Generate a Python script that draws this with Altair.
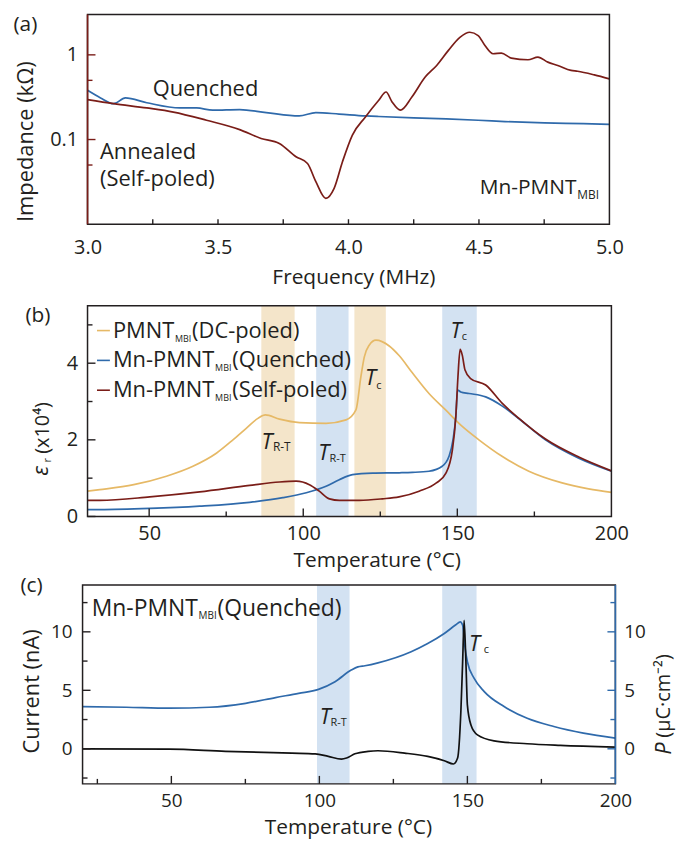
import altair as alt
import pandas as pd

FONT = "Open Sans"
INK = "#231f20"
RED = "#7a1d18"
BLUE = "#2f6aab"
GOLD = "#e6b966"
BAND_TAN = "#f4e5ca"
BAND_BLUE = "#d3e2f2"

# ---------------- (a) impedance vs frequency ----------------
a_q_freq = [3.00, 3.05, 3.10, 3.145, 3.227, 3.354, 3.418, 3.48, 3.583, 3.685, 3.811, 3.875,
            3.964, 4.065, 4.116, 4.25, 4.375, 4.497, 4.60, 4.751, 4.90, 5.00]
a_q_imp = [0.381, 0.31, 0.265, 0.31, 0.272, 0.236, 0.236, 0.222, 0.226, 0.208, 0.19, 0.208,
           0.20, 0.19, 0.187, 0.18, 0.175, 0.169, 0.163, 0.157, 0.154, 0.151]
a_s_freq = [3.00, 3.10, 3.227, 3.329, 3.456, 3.583, 3.665, 3.735, 3.799, 3.843, 3.875, 3.913,
            3.945, 3.977, 4.015, 4.065, 4.116, 4.144, 4.167, 4.199, 4.243, 4.294, 4.338, 4.383,
            4.427, 4.465, 4.497, 4.523, 4.554, 4.586, 4.624, 4.688, 4.726, 4.764, 4.802, 4.853,
            4.878, 4.942, 5.00]
a_s_imp = [0.296, 0.265, 0.236, 0.211, 0.169, 0.131, 0.103, 0.0898, 0.0626, 0.0522, 0.0318, 0.0202,
           0.0265, 0.0547, 0.113, 0.185, 0.291, 0.364, 0.278, 0.222, 0.318, 0.547, 0.75, 1.13,
           1.61, 1.85, 1.69, 1.29, 1.03, 1.05, 0.915, 0.875, 0.94, 0.82, 0.75, 0.655,
           0.64, 0.58, 0.52]
a_x_labels = [3.0, 3.5, 4.0, 4.5, 5.0]
a_x_minor = [3.25, 3.5, 3.75, 4.0, 4.25, 4.5, 4.75]
a_y_labels = [0.1, 1]
a_y_minor = [0.05, 0.5]

# ---------------- (b) permittivity vs temperature ----------------
b_dc_T = [30, 34, 45, 55.6, 64.2, 71.8, 77.2, 81.5, 85.3, 87.7, 92.3, 98.8, 107.4, 113.9, 117.1,
          118.7, 119.8, 121.4, 123.6, 127.9, 131.1, 135.4, 140.8, 146.2, 151.6, 157, 164.5,
          173.2, 184, 192.6, 200]
b_dc_eps = [0.66, 0.70, 0.83, 1.05, 1.31, 1.65, 2.0, 2.30, 2.56, 2.65, 2.54, 2.45, 2.43, 2.52, 2.78,
            3.64, 4.16, 4.47, 4.60, 4.45, 4.20, 3.75, 3.21, 2.78, 2.35, 2.0, 1.57,
            1.18, 0.875, 0.72, 0.63]
b_q_T = [30, 34, 50.2, 66.4, 82.6, 93.4, 101, 107.4, 111.7, 116, 122.5, 131.1, 135.4, 140.8, 145.1,
         147.3, 148.6, 149.5, 150.1, 151.1, 153.8, 159.2, 164.6, 170, 178.6, 189.4, 200]
b_q_eps = [0.18, 0.18, 0.21, 0.27, 0.37, 0.49, 0.62, 0.79, 0.96, 1.09, 1.13, 1.14, 1.15, 1.18, 1.31,
           1.57, 2.0, 2.6, 3.3, 3.25, 3.21, 3.12, 2.88, 2.55, 2.0, 1.52, 1.18]
b_s_T = [30, 34, 50.2, 66.4, 82.6, 92.3, 97.7, 102, 105.2, 108.5, 111.7, 118.2, 125.7, 131.1, 137.6,
         143.2, 146.3, 148.4, 149.5, 150.2, 150.9, 151.6, 152.5, 154.3, 159.2, 164.6, 170, 178.6,
         189.4, 200]
b_s_eps = [0.42, 0.42, 0.51, 0.64, 0.81, 0.90, 0.92, 0.83, 0.66, 0.46, 0.42, 0.42, 0.46, 0.51, 0.66,
           0.875, 1.13, 1.74, 2.6, 3.64, 4.36, 4.21, 3.82, 3.6, 3.43, 2.95, 2.56, 2.02,
           1.55, 1.19]
b_band_start = [86.4, 104.2, 116.6, 145.1]
b_band_end = [97.2, 114.7, 126.8, 156.3]
b_band_kind = ["tan", "blue", "tan", "blue"]
b_x_labels = [50, 100, 150, 200]
b_x_minor = [75, 125, 175]
b_y_labels = [0, 2, 4]
b_y_minor = [1, 3, 5]

# ---------------- (c) current / polarization ----------------
c_p_T = [20, 34.8, 49.3, 62.8, 75.1, 85.2, 93, 99.7, 105.3, 110.9, 113, 115.4, 119.8, 131, 136.6,
         142.2, 146.1, 147.6, 148.4, 149.1, 150, 152.3, 155.7, 162.4, 170.2, 179.2, 189.2, 200]
c_p_val = [3.61, 3.55, 3.47, 3.55, 3.89, 4.38, 4.74, 5.08, 5.74, 6.75, 7.0, 7.1, 7.35, 8.3, 9.0,
           9.86, 10.6, 10.85, 10.56, 8.86, 7.44, 6.02, 4.89, 3.61, 2.61, 1.91, 1.34, 0.91]
c_i_T = [20, 49.3, 68.3, 90.7, 98.6, 103, 107.5, 109.2, 112, 116.5, 119.8, 128.8, 136.6, 142.2,
         145.3, 146.7, 147.8, 148.4, 148.9, 149.5, 150, 151.2, 153.4, 159, 170.2, 181.4, 200]
c_i_val = [0, -0.03, -0.22, -0.37, -0.43, -0.65, -0.88, -0.79, -0.43, -0.22, -0.17, -0.37, -0.65,
           -1.02, -1.30, -0.79, 3.19, 7.44, 10.99, 7.44, 3.75, 2.04, 1.19, 0.68, 0.43, 0.29, 0.14]
c_band_start = [99.2, 141.5]
c_band_end = [110.2, 153.1]
c_x_labels = [50, 100, 150, 200]
c_x_minor = [25, 75, 125, 175]
c_y_labels = [0, 5, 10]
c_y_minor = [-2.5, 2.5, 7.5, 12.5]

# ---------------- layout constants ----------------
WA, HA = 525, 211
WB, HB = 527, 212
WC, HC = 531, 187
CX0, CY0 = -5, -13   # panel (c) frame starts left/up of its group origin

ONE = pd.DataFrame({"k": [0]})

# approximate Open Sans advance widths (em) for placing subscripts after text
OS_W = {"M": .903, "n": .614, "-": .322, "P": .603, "N": .756, "T": .551, "(": .295, ")": .295,
        "D": .735, "C": .633, "p": .613, "o": .604, "l": .253, "e": .561, "d": .613, "Q": .778,
        "u": .614, "c": .476, "h": .614, "S": .535, "f": .339, "B": .633, "I": .276, "R": .635}


def tw(s, size):
    return sum(OS_W.get(ch, 0.56) for ch in s) * size


def txt(text, x, y, size=22, italic=False, align="left", baseline="middle", color=INK, angle=None):
    kw = dict(text=text, font=FONT, fontSize=size, align=align, baseline=baseline, color=color)
    if italic:
        kw["fontStyle"] = "italic"
    if angle is not None:
        kw["angle"] = angle
    return alt.Chart(ONE).mark_text(**kw).encode(x=alt.value(x), y=alt.value(y))


def subscripted(main, sub, tail, x, y, size, subsize, subdy):
    """main text + subscript + tail, left aligned at x."""
    layers = [txt(main, x, y, size=size)]
    xs = x + tw(main, size) + 0.5
    layers.append(txt(sub, xs, y + subdy, size=subsize))
    if tail:
        layers.append(txt(tail, xs + tw(sub, subsize) + 1.0, y, size=size))
    return layers


def frame(x0, y0, x1, y1):
    return alt.Chart(ONE).mark_rect(fillOpacity=0, stroke=INK, strokeWidth=1.5).encode(
        x=alt.value(x0), x2=alt.value(x1), y=alt.value(y0), y2=alt.value(y1))


def side(x0, y0, x1, y1, color, width=1.6):
    return alt.Chart(ONE).mark_rule(color=color, strokeWidth=width).encode(
        x=alt.value(x0), x2=alt.value(x1), y=alt.value(y0), y2=alt.value(y1))


def vtick(vals, scale, x0, x1, ax, color=INK):
    df = pd.DataFrame({"tv": vals})
    return alt.Chart(df).mark_rule(color=color, strokeWidth=1.4).encode(
        y=alt.Y("tv:Q", scale=scale, axis=ax), x=alt.value(x0), x2=alt.value(x1))


def htick(vals, scale, y0, y1, ax, color=INK):
    df = pd.DataFrame({"th": vals})
    return alt.Chart(df).mark_rule(color=color, strokeWidth=1.4).encode(
        x=alt.X("th:Q", scale=scale, axis=ax), y=alt.value(y0), y2=alt.value(y1))


def axis(values, fmt, pad, orient, size=20):
    return alt.Axis(values=values, format=fmt, title=None, ticks=False, tickSize=0, domain=False,
                    grid=False, labelFont=FONT, labelFontSize=size, labelColor=INK,
                    labelPadding=pad, labelFlush=False, labelOverlap=False, orient=orient)


def line(T, V, color, xname, yname, xs, ys, xax, yax, width=1.7):
    df = pd.DataFrame({xname: T, yname: V})
    return alt.Chart(df).mark_line(color=color, strokeWidth=width, interpolate="monotone").encode(
        x=alt.X(f"{xname}:Q", scale=xs, axis=xax),
        y=alt.Y(f"{yname}:Q", scale=ys, axis=yax))


# ================= panel (a) =================
xa = alt.Scale(domain=[3, 5], nice=False)
ya = alt.Scale(type="log", domain=[0.01, 3], nice=False)
AXA_X = axis(a_x_labels, ".1f", 13, "bottom")
AXA_Y = axis(a_y_labels, "~g", 10, "left")
pa = alt.layer(
    line(a_q_freq, a_q_imp, BLUE, "freq", "imp", xa, ya, AXA_X, AXA_Y),
    line(a_s_freq, a_s_imp, RED, "freq", "imp", xa, ya, AXA_X, AXA_Y),
    frame(0, 0, WA, HA),
    side(0, 0, 0, HA, RED),
    vtick(a_y_labels, ya, 0, 8, AXA_Y, RED),
    vtick(a_y_minor, ya, 0, 5, AXA_Y, RED),
    htick(a_x_minor, xa, HA, HA - 5, AXA_X),
    txt("(a)", -74.5, 11, size=21),
    txt("Impedance (kΩ)", -61.5, 128, align="center", angle=270),
    txt("Quenched", 65.5, 75),
    txt("Annealed", 12.5, 138),
    txt("(Self-poled)", 12.5, 166),
    *subscripted("Mn-PMNT", "MBI", None, 394.5, 175, 21, 12, 7),
    txt("Frequency (MHz)", 268, 265, size=21, align="center"),
).properties(width=WA, height=HA)

# ================= panel (b) =================
xb = alt.Scale(domain=[30, 200], nice=False)
yb = alt.Scale(domain=[0, 5.5], nice=False)
AXB_X = axis(b_x_labels, "d", 7, "bottom")
AXB_Y = axis(b_y_labels, "d", 10, "left")
bands_b = pd.DataFrame({"t0": b_band_start, "t1": b_band_end, "kind": b_band_kind})
band_layer_b = alt.Chart(bands_b).mark_rect().encode(
    x=alt.X("t0:Q", scale=xb, axis=AXB_X), x2="t1:Q",
    y=alt.value(0), y2=alt.value(HB),
    color=alt.Color("kind:N", scale=alt.Scale(domain=["tan", "blue"], range=[BAND_TAN, BAND_BLUE]),
                    legend=None))

legend_rows = [("PMNT", "(DC-poled)", GOLD, 25),
               ("Mn-PMNT", "(Quenched)", BLUE, 55),
               ("Mn-PMNT", "(Self-poled)", RED, 85)]
leg_layers = []
for main, tail, col, yy in legend_rows:
    leg_layers.append(side(9.5, yy, 22.5, yy, col))
    leg_layers += subscripted(main, "MBI", tail, 25.5, yy, 22, 9, 8)

pb = alt.layer(
    band_layer_b,
    line(b_dc_T, b_dc_eps, GOLD, "T", "eps", xb, yb, AXB_X, AXB_Y),
    line(b_q_T, b_q_eps, BLUE, "T", "eps", xb, yb, AXB_X, AXB_Y),
    line(b_s_T, b_s_eps, RED, "T", "eps", xb, yb, AXB_X, AXB_Y),
    frame(0, 0, WB, HB),
    vtick(b_y_labels, yb, 0, 8, AXB_Y),
    vtick(b_y_minor, yb, 0, 5, AXB_Y),
    htick([50, 100, 150], xb, HB, HB - 8, AXB_X),
    htick(b_x_minor, xb, HB, HB - 5, AXB_X),
    *leg_layers,
    txt("(b)", -62.5, 10, size=21),
    txt("(x10⁴)", -44.5, 123, size=20, align="center", angle=270),
    txt("ε", -46.5, 166, align="center", italic=True, angle=270),
    txt("r", -40, 155.5, size=11, align="center", angle=270),
    txt("T", 180.5, 136.7, italic=True, align="center"),
    txt("R-T", 186.5, 141.7, size=12),
    txt("T", 237.5, 147.7, italic=True, align="center"),
    txt("R-T", 243.5, 154, size=11),
    txt("T", 284.5, 73, italic=True, align="center"),
    txt("c", 290.5, 81, size=11),
    txt("T", 370.5, 25.7, italic=True, align="center"),
    txt("c", 376.5, 31.7, size=11),
    txt("Temperature (°C)", 291.5, 257, size=21, align="center"),
).properties(width=WB, height=HB)

# ================= panel (c) =================
xc = alt.Scale(domain=[20, 200], range=[CX0, WC], nice=False)


def yc():
    return alt.Scale(domain=[-3, 14], range=[HC, CY0], nice=False)


AXC_X = axis(c_x_labels, "d", 8, "bottom", size=19)
bands_c = pd.DataFrame({"t0": c_band_start, "t1": c_band_end})
band_layer_c = alt.Chart(bands_c).mark_rect(color=BAND_BLUE).encode(
    x=alt.X("t0:Q", scale=xc, axis=AXC_X), x2="t1:Q",
    y=alt.value(CY0), y2=alt.value(HC))

pc = alt.layer(
    band_layer_c,
    line(c_p_T, c_p_val, BLUE, "T", "P", xc, yc(), AXC_X,
         axis(c_y_labels, "d", 8.5, "right", size=19)),
    line(c_i_T, c_i_val, "#111111", "T", "I", xc, yc(), AXC_X,
         axis(c_y_labels, "d", 15.5, "left", size=19)),
    frame(CX0, CY0, WC, HC),
    side(WC, CY0, WC, HC, BLUE),
    vtick(c_y_labels, yc(), CX0, CX0 + 8, None),
    vtick(c_y_minor, yc(), CX0, CX0 + 5, None),
    vtick(c_y_labels, yc(), WC, WC - 8, None, BLUE),
    vtick(c_y_minor, yc(), WC, WC - 5, None, BLUE),
    htick([50, 100, 150], xc, HC, HC - 8, AXC_X),
    htick(c_x_minor, xc, HC, HC - 5, AXC_X),
    txt("(c)", -67.5, -12, size=21),
    txt("Current (nA)", -55.5, 94, align="center", angle=270),
    txt("P", 579.5, 151.5, italic=True, align="center", angle=270),
    txt("(μC·cm⁻²)", 579.5, 98.5, size=20, align="center", angle=270),
    *subscripted("Mn-PMNT", "MBI", "(Quenched)", 4.2, 11, 23, 10, 7),
    txt("T", 239.2, 119.3, italic=True, align="center"),
    txt("R-T", 244.5, 126, size=11),
    txt("T", 389.2, 46, italic=True, align="center"),
    txt("c", 398.5, 52.7, size=11),
    txt("Temperature (°C)", 262.5, 231, size=21, align="center"),
).resolve_scale(y="independent").properties(width=WC, height=HC)

chart = alt.vconcat(pa, pb, pc, spacing=82, bounds="flush").properties(
    padding={"left": 5, "top": 3, "right": 5, "bottom": 5}
).configure_view(stroke=None)

chart.save("out.html", embed_options={"renderer": "svg", "actions": False})
